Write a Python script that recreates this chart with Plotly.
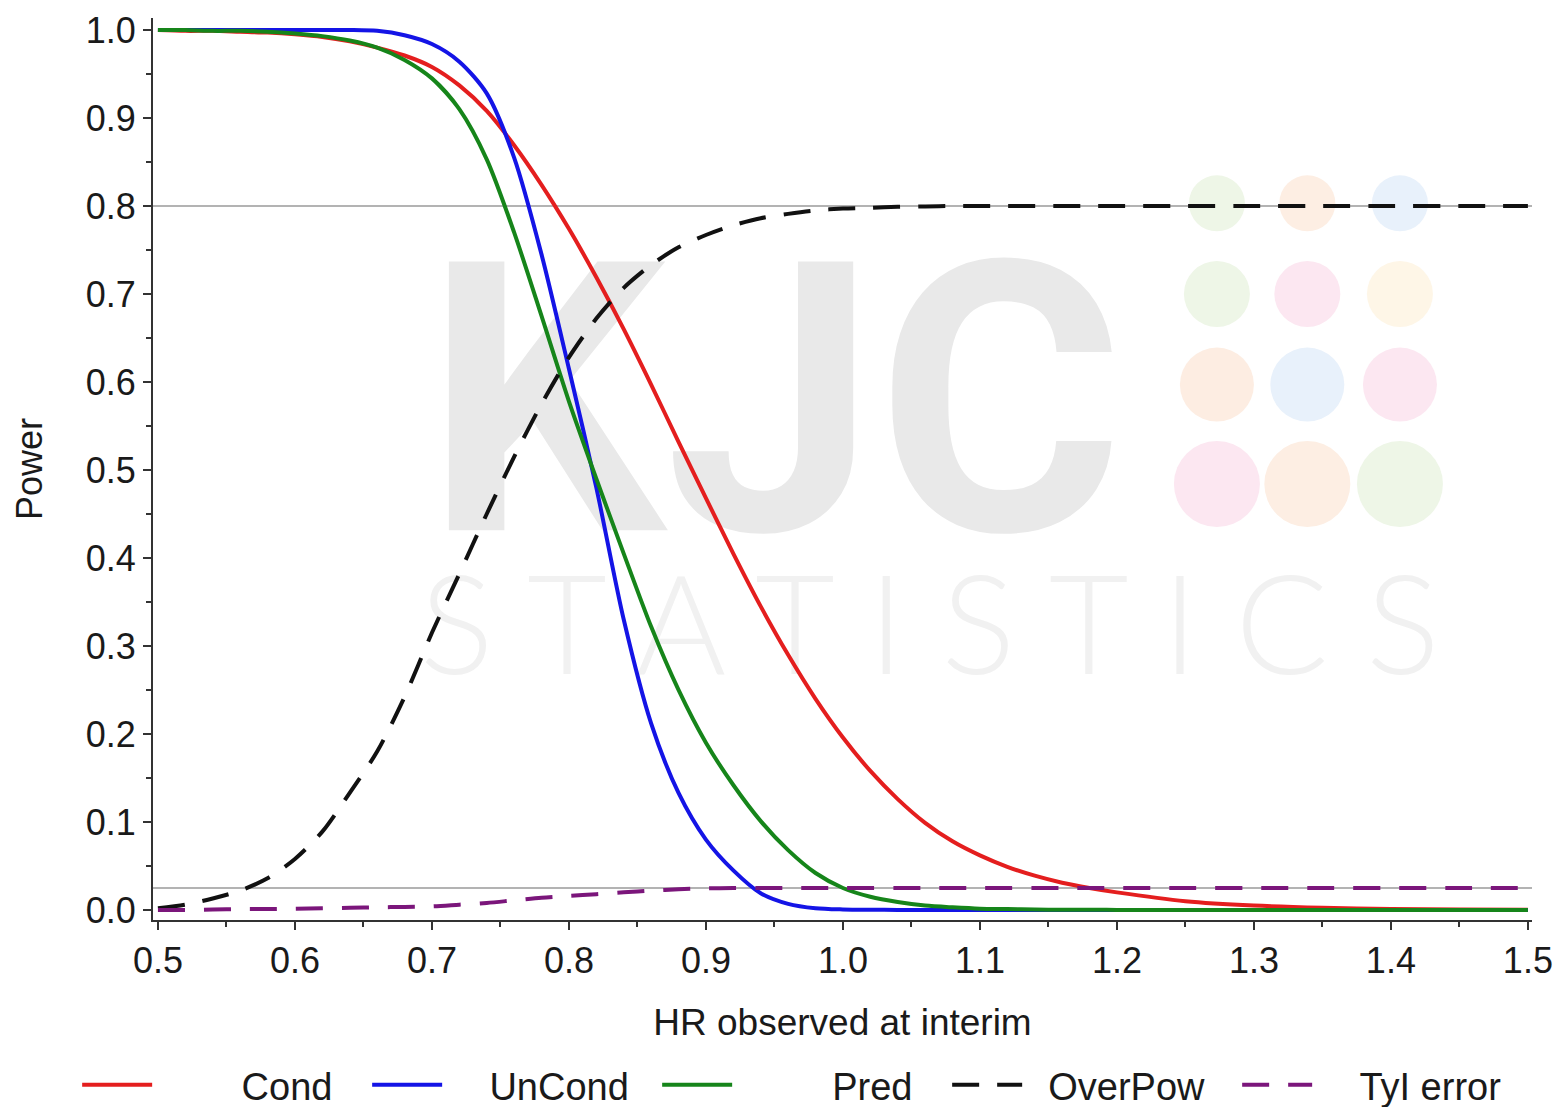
import plotly.graph_objects as go

# ---------------- data ----------------
hr = [0.50, 0.52, 0.54, 0.56, 0.58, 0.60, 0.62, 0.64, 0.66, 0.68,
      0.70, 0.72, 0.74, 0.76, 0.78, 0.80, 0.82, 0.84, 0.86, 0.88,
      0.90, 0.92, 0.94, 0.96, 0.98, 1.00, 1.02, 1.04, 1.06, 1.08,
      1.10, 1.12, 1.14, 1.16, 1.18, 1.20, 1.25, 1.30, 1.35, 1.40,
      1.45, 1.50]

cond = [1.000, 0.999, 0.999, 0.998, 0.997, 0.995, 0.992, 0.987, 0.980, 0.971,
        0.958, 0.937, 0.908, 0.869, 0.824, 0.774, 0.719, 0.660, 0.597, 0.532,
        0.468, 0.405, 0.345, 0.290, 0.240, 0.196, 0.158, 0.126, 0.099, 0.078,
        0.062, 0.049, 0.039, 0.031, 0.025, 0.020, 0.010, 0.005, 0.0025, 0.0012,
        0.0006, 0.0003]

uncond = [1.000, 1.000, 1.000, 1.000, 1.000, 1.000, 1.000, 1.000, 0.999, 0.994,
          0.984, 0.964, 0.928, 0.855, 0.745, 0.615, 0.480, 0.330, 0.212, 0.133,
          0.080, 0.045, 0.019, 0.007, 0.002, 0.0006, 0.0002, 0.0001, 0.0, 0.0,
          0.0, 0.0, 0.0, 0.0, 0.0, 0.0, 0.0, 0.0, 0.0, 0.0,
          0.0, 0.0]

pred = [1.000, 1.000, 0.999, 0.999, 0.998, 0.996, 0.993, 0.988, 0.980, 0.966,
        0.945, 0.910, 0.853, 0.770, 0.675, 0.578, 0.490, 0.405, 0.322, 0.250,
        0.190, 0.142, 0.101, 0.068, 0.042, 0.025, 0.015, 0.009, 0.005, 0.003,
        0.0015, 0.001, 0.0005, 0.0003, 0.0002, 0.0001, 0.0, 0.0, 0.0, 0.0,
        0.0, 0.0]

overpow = [0.002, 0.006, 0.013, 0.022, 0.036, 0.058, 0.089, 0.133, 0.180, 0.242,
           0.315, 0.382, 0.450, 0.515, 0.575, 0.628, 0.672, 0.707, 0.733, 0.753,
           0.767, 0.778, 0.786, 0.791, 0.795, 0.797, 0.798, 0.799, 0.7995, 0.800,
           0.800, 0.800, 0.800, 0.800, 0.800, 0.800, 0.800, 0.800, 0.800, 0.800,
           0.800, 0.800]

ty1_error = [0.000, 0.000, 0.0005, 0.001, 0.001, 0.0015, 0.002, 0.0025, 0.003, 0.0035,
             0.004, 0.006, 0.008, 0.011, 0.014, 0.016, 0.018, 0.020, 0.022, 0.0235,
             0.0245, 0.025, 0.025, 0.025, 0.025, 0.025, 0.025, 0.025, 0.025, 0.025,
             0.025, 0.025, 0.025, 0.025, 0.025, 0.025, 0.025, 0.025, 0.025, 0.025,
             0.025, 0.025]

series_names = ["Cond", "UnCond", "Pred", "OverPow", "TyI error"]
ref_levels = [0.8, 0.025]
x_ticks = [0.5, 0.6, 0.7, 0.8, 0.9, 1.0, 1.1, 1.2, 1.3, 1.4, 1.5]
y_ticks = [0.0, 0.1, 0.2, 0.3, 0.4, 0.5, 0.6, 0.7, 0.8, 0.9, 1.0]

# ---------------- styling ----------------
FONT = "Arial, 'Liberation Sans', sans-serif"
NB = "\u00a0"
legend_labels = {
    "Cond": NB * 8 + "Cond",
    "UnCond": NB * 4 + "UnCond",
    "Pred": NB * 9 + "Pred",
    "OverPow": NB * 2 + "OverPow",
    "TyI error": NB * 4 + "TyI error",
}

fig = go.Figure()

# watermark (behind the data)
fig.add_trace(go.Scatter(
    x=[0.950], y=[0.539], mode="text", text=["KJC"],
    textposition="middle center",
    textfont=dict(family="Roboto, Lato, sans-serif", size=378, color="#e9e9e9", weight="bold"),
    showlegend=False, hoverinfo="skip"))
fig.add_trace(go.Scatter(
    x=[1.0635], y=[0.307], mode="text", text=["S T A T I S T I C S"],
    textposition="middle center",
    textfont=dict(family="Lato, 'Open Sans', sans-serif", size=138, color="#f1f1f1", weight=300),
    showlegend=False, hoverinfo="skip"))

wm_cols = [1.273, 1.339, 1.4066]
wm_rows = [0.803, 0.700, 0.597, 0.484]
wm_diam = [56, 66, 74, 86]
wm_colors = [["#eef6e7", "#fdeee3", "#e8f1fb"],
             ["#eef6e7", "#fce7f1", "#fef6e7"],
             ["#fdede2", "#e8f1fb", "#fce7f1"],
             ["#fce7f1", "#fdeee3", "#eef6e7"]]
for ri, yv in enumerate(wm_rows):
    for ci, xv in enumerate(wm_cols):
        r = wm_diam[ri] / 2
        fig.add_shape(type="circle", xref="x", yref="y",
                      xsizemode="pixel", ysizemode="pixel",
                      xanchor=xv, yanchor=yv, x0=-r, x1=r, y0=-r, y1=r,
                      fillcolor=wm_colors[ri][ci], line=dict(width=0), layer="below")

for lvl in ref_levels:
    fig.add_hline(y=lvl, line=dict(color="#9a9a9a", width=1.6), layer="below")

styles = {
    "Cond": dict(color="#e41e1e", width=4, dash="solid"),
    "UnCond": dict(color="#1414e6", width=4, dash="solid"),
    "Pred": dict(color="#16851a", width=4, dash="solid"),
    "OverPow": dict(color="#111111", width=4, dash="27px,18px"),
    "TyI error": dict(color="#7b167b", width=4, dash="27px,19px"),
}
values = {"Cond": cond, "UnCond": uncond, "Pred": pred,
          "OverPow": overpow, "TyI error": ty1_error}

for name in series_names:
    fig.add_trace(go.Scatter(
        x=hr, y=values[name], mode="lines", name=legend_labels[name],
        line=dict(shape="spline", smoothing=0.8, **styles[name])))

axis_common = dict(
    showline=True, linecolor="#333333", linewidth=2,
    ticks="outside", ticklen=8, tickwidth=2, tickcolor="#333333",
    showgrid=False, zeroline=False, tickformat=".1f",
    tickfont=dict(family=FONT, size=36, color="#1a1a1a"),
    minor=dict(ticks="outside", ticklen=5, tickwidth=2, tickcolor="#333333", showgrid=False),
)

fig.update_xaxes(range=[0.4964, 1.503], tickvals=x_ticks,
                 minor_dtick=0.05, minor_tick0=0.5,
                 title=dict(text="HR observed at interim", font=dict(family=FONT, size=37, color="#1a1a1a"), standoff=29),
                 **axis_common)
fig.update_yaxes(range=[-0.0114, 1.0136], tickvals=y_ticks,
                 minor_dtick=0.05, minor_tick0=0.0,
                 title=dict(text="Power", font=dict(family=FONT, size=36, color="#1a1a1a"), standoff=32),
                 **axis_common)

fig.update_layout(
    width=1560, height=1107,
    margin=dict(l=153, r=28, t=18, b=187, autoexpand=False),
    paper_bgcolor="white", plot_bgcolor="white",
    font=dict(family=FONT, size=36, color="#1a1a1a"),
    showlegend=True,
    legend=dict(orientation="h", x=-0.055, xanchor="left", y=-0.183, yanchor="middle",
                font=dict(family=FONT, size=38, color="#1a1a1a"),
                entrywidth=205, entrywidthmode="pixels",
                itemwidth=70, bgcolor="rgba(0,0,0,0)", traceorder="normal"),
)

fig.write_html("out.html")
